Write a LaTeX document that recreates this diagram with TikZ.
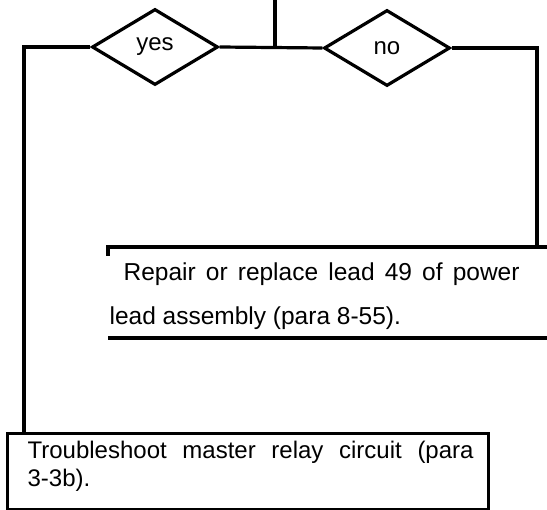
\documentclass[tikz,border=0pt]{standalone}
\usepackage{fontspec}
\setmainfont{Liberation Sans}
\usetikzlibrary{shapes.geometric}
\begin{document}
\begin{tikzpicture}[x=1pt,y=-1pt, line width=3.2pt, line join=miter,
  dec/.style={draw, diamond, inner sep=0pt, minimum width=126pt, minimum height=76pt, font=\fontsize{24}{29}\selectfont},
  txt/.style={font=\fontsize{24.5}{29}\selectfont, inner sep=0pt, anchor=base west},
  btxt/.style={font=\fontsize{24}{29}\selectfont, inner sep=0pt, anchor=base west},
  boxed/.style={draw, rectangle, inner sep=0pt, anchor=north west}]
\useasboundingbox (0,0) rectangle (547,510);
% decisions
\coordinate (top) at (275,0);
\node[dec] (yes) at (155,47) {yes};
\node[dec] (no) at (387,48) {no};
\coordinate (j) at (275,47.5);
\draw (top) -- (j);
\draw (yes.east) -- (no.west);
% bottom box
\node[boxed, minimum width=481pt, minimum height=76pt] (tb) at (6,432) {};
\node[btxt] (t1) at (26,459) {\makebox[446pt][s]{Troubleshoot master relay circuit (para}};
\node[btxt] (t2) at (26,487) {3-3b).};
% left branch
\coordinate (lc) at (24,47);
\draw (yes.west) -- (lc) -- (lc |- tb.north);
% middle open box
\coordinate (mtl) at (108,247);
\coordinate (mtk) at (108,256);
\coordinate (mtr) at (547,247);
\coordinate (mbl) at (108,338);
\coordinate (mbr) at (547,338);
\draw (mtk) -- (mtl) -- (mtr);
\draw (mbl) -- (mbr);
\node[txt] (r1) at (122,281) {\makebox[396pt][s]{Repair or replace lead 49 of power}};
\node[txt] (r2) at (108,325) {lead assembly (para 8-55).};
% right branch
\coordinate (rc) at (537,48);
\draw (no.east) -- (rc) -- (rc |- mtl);
\end{tikzpicture}
\end{document}
